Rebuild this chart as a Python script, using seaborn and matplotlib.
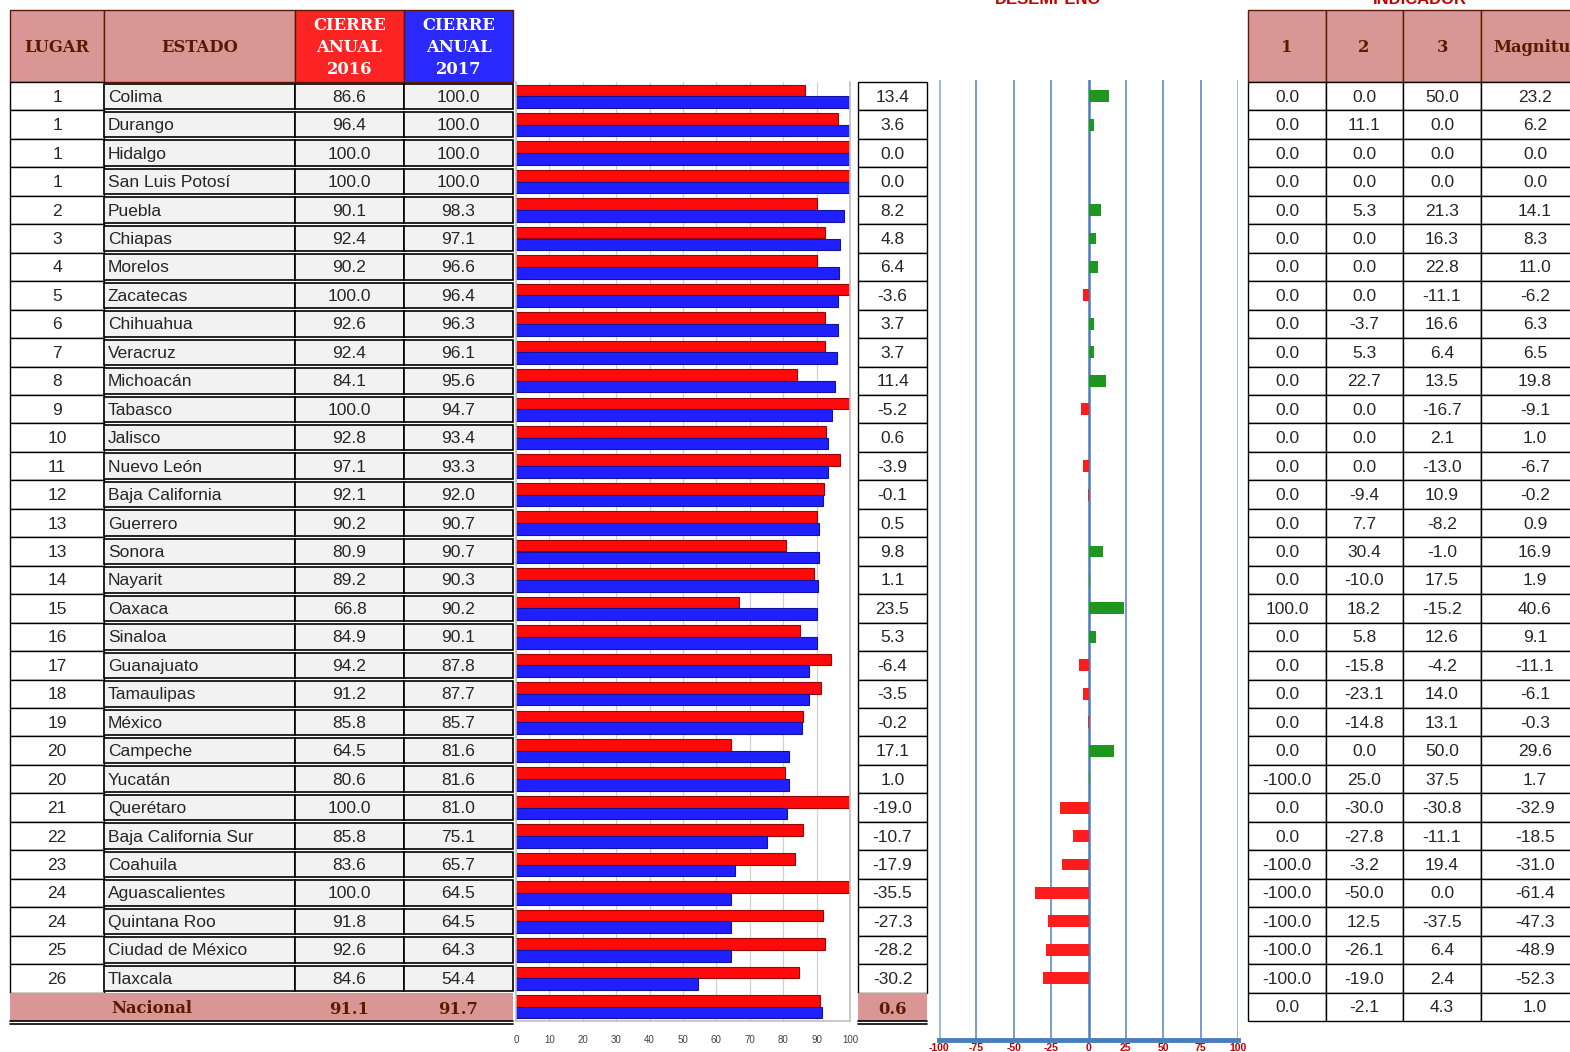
import numpy as np
import pandas as pd
import matplotlib
matplotlib.use("Agg")
import matplotlib.pyplot as plt
from matplotlib.patches import Rectangle
import seaborn as sns

# ---------------- data ----------------
estados = ["Colima", "Durango", "Hidalgo", "San Luis Potosí", "Puebla", "Chiapas", "Morelos",
           "Zacatecas", "Chihuahua", "Veracruz", "Michoacán", "Tabasco", "Jalisco", "Nuevo León",
           "Baja California", "Guerrero", "Sonora", "Nayarit", "Oaxaca", "Sinaloa", "Guanajuato",
           "Tamaulipas", "México", "Campeche", "Yucatán", "Querétaro", "Baja California Sur",
           "Coahuila", "Aguascalientes", "Quintana Roo", "Ciudad de México", "Tlaxcala"]
lugar = [1, 1, 1, 1, 2, 3, 4, 5, 6, 7, 8, 9, 10, 11, 12, 13, 13, 14, 15, 16, 17, 18, 19, 20, 20,
         21, 22, 23, 24, 24, 25, 26]
cierre_2016 = [86.6, 96.4, 100.0, 100.0, 90.1, 92.4, 90.2, 100.0, 92.6, 92.4, 84.1, 100.0, 92.8,
               97.1, 92.1, 90.2, 80.9, 89.2, 66.8, 84.9, 94.2, 91.2, 85.8, 64.5, 80.6, 100.0, 85.8,
               83.6, 100.0, 91.8, 92.6, 84.6]
cierre_2017 = [100.0, 100.0, 100.0, 100.0, 98.3, 97.1, 96.6, 96.4, 96.3, 96.1, 95.6, 94.7, 93.4,
               93.3, 92.0, 90.7, 90.7, 90.3, 90.2, 90.1, 87.8, 87.7, 85.7, 81.6, 81.6, 81.0, 75.1,
               65.7, 64.5, 64.5, 64.3, 54.4]
desempeno = [13.4, 3.6, 0.0, 0.0, 8.2, 4.8, 6.4, -3.6, 3.7, 3.7, 11.4, -5.2, 0.6, -3.9, -0.1, 0.5,
             9.8, 1.1, 23.5, 5.3, -6.4, -3.5, -0.2, 17.1, 1.0, -19.0, -10.7, -17.9, -35.5, -27.3,
             -28.2, -30.2]
ind_1 = [0.0, 0.0, 0.0, 0.0, 0.0, 0.0, 0.0, 0.0, 0.0, 0.0, 0.0, 0.0, 0.0, 0.0, 0.0, 0.0, 0.0, 0.0,
         100.0, 0.0, 0.0, 0.0, 0.0, 0.0, -100.0, 0.0, 0.0, -100.0, -100.0, -100.0, -100.0, -100.0]
ind_2 = [0.0, 11.1, 0.0, 0.0, 5.3, 0.0, 0.0, 0.0, -3.7, 5.3, 22.7, 0.0, 0.0, 0.0, -9.4, 7.7, 30.4,
         -10.0, 18.2, 5.8, -15.8, -23.1, -14.8, 0.0, 25.0, -30.0, -27.8, -3.2, -50.0, 12.5, -26.1,
         -19.0]
ind_3 = [50.0, 0.0, 0.0, 0.0, 21.3, 16.3, 22.8, -11.1, 16.6, 6.4, 13.5, -16.7, 2.1, -13.0, 10.9,
         -8.2, -1.0, 17.5, -15.2, 12.6, -4.2, 14.0, 13.1, 50.0, 37.5, -30.8, -11.1, 19.4, 0.0,
         -37.5, 6.4, 2.4]
magnitud = [23.2, 6.2, 0.0, 0.0, 14.1, 8.3, 11.0, -6.2, 6.3, 6.5, 19.8, -9.1, 1.0, -6.7, -0.2,
            0.9, 16.9, 1.9, 40.6, 9.1, -11.1, -6.1, -0.3, 29.6, 1.7, -32.9, -18.5, -31.0, -61.4,
            -47.3, -48.9, -52.3]
nacional_label = "Nacional"
nacional_2016 = 91.1
nacional_2017 = 91.7
nacional_desempeno = 0.6
nacional_ind = [0.0, -2.1, 4.3, 1.0]
eje_barras = [0, 10, 20, 30, 40, 50, 60, 70, 80, 90, 100]
eje_desempeno = [-100, -75, -50, -25, 0, 25, 50, 75, 100]
header_ind = ["1", "2", "3", "Magnitud"]

# ---------------- style ----------------
sns.set_theme(style="white")
plt.rcParams['font.family'] = ['Liberation Sans', 'DejaVu Sans']

W, H = 1570, 1052
fig = plt.figure(figsize=(W / 100, H / 100), dpi=100)

PINK = "#d99694"
BROWN = "#5b1a00"
HEAD_RED = "#ff2424"
HEAD_BLUE = "#2a2aff"
CELL_GRAY = "#f2f2f2"
SERIF = ['DejaVu Serif']
FS = 12.5
FSS = 11.8

TOP = 82.0
NROWS = 33
RH = (1021.0 - TOP) / NROWS


def rect_fig(x0, y0, x1, y1):
    return [x0 / W, 1 - y1 / H, (x1 - x0) / W, (y1 - y0) / H]


bg = fig.add_axes([0, 0, 1, 1])
bg.set_xlim(0, W)
bg.set_ylim(H, 0)
bg.axis('off')


def cell(x0, y0, x1, y1, fc, ec="black", lw=1.0):
    bg.add_patch(Rectangle((x0, y0), x1 - x0, y1 - y0, facecolor=fc, edgecolor=ec, linewidth=lw))


def row_y(i):
    return TOP + i * RH


# ---------------- left table ----------------
cols = [10, 104, 295, 404, 513]
cell(cols[0], 10, cols[1], TOP, PINK, BROWN)
cell(cols[1], 10, cols[2], TOP, PINK, BROWN)
cell(cols[2], 10, cols[3], TOP, HEAD_RED, BROWN)
cell(cols[3], 10, cols[4], TOP, HEAD_BLUE, BROWN)
bg.text((cols[0] + cols[1]) / 2, 47, "LUGAR", ha='center', va='center', color=BROWN,
        fontweight='bold', family=SERIF, fontsize=FSS)
bg.text((cols[1] + cols[2]) / 2, 47, "ESTADO", ha='center', va='center', color=BROWN,
        fontweight='bold', family=SERIF, fontsize=FSS)
for (xa, xb), year in [((cols[2], cols[3]), "2016"), ((cols[3], cols[4]), "2017")]:
    for k, line in enumerate(["CIERRE", "ANUAL", year]):
        bg.text((xa + xb) / 2, 25 + 22 * k, line, ha='center', va='center', color='white',
                fontweight='bold', family=SERIF, fontsize=FSS)

for i, est in enumerate(estados):
    y0, y1 = row_y(i), row_y(i + 1)
    cell(cols[0], y0, cols[1], y1, 'white', 'black', 1.0)
    for c in range(1, 4):
        cell(cols[c], y0 + 1.5, cols[c + 1], y1 - 1.5, CELL_GRAY, 'black', 1.2)
    yc = (y0 + y1) / 2 + 1
    bg.text((cols[0] + cols[1]) / 2, yc, str(lugar[i]), ha='center', va='center', fontsize=FS)
    bg.text(cols[1] + 4, yc, est, ha='left', va='center', fontsize=FS)
    bg.text((cols[2] + cols[3]) / 2, yc, f"{cierre_2016[i]:.1f}", ha='center', va='center', fontsize=FS)
    bg.text((cols[3] + cols[4]) / 2, yc, f"{cierre_2017[i]:.1f}", ha='center', va='center', fontsize=FS)

yn0, yn1 = row_y(32), row_y(33)
bg.add_patch(Rectangle((cols[0], yn0), cols[4] - cols[0], yn1 - yn0, facecolor=PINK, edgecolor='none'))
bg.plot([cols[0], cols[4]], [yn1, yn1], color='black', lw=1.2)
bg.plot([cols[0], cols[4]], [yn1 + 3, yn1 + 3], color='black', lw=1.2)
ycn = (yn0 + yn1) / 2 + 2
bg.text(152, ycn, nacional_label, ha='center', va='center', color=BROWN, fontweight='bold',
        family=SERIF, fontsize=FSS)
bg.text((cols[2] + cols[3]) / 2, ycn + 1, f"{nacional_2016:.1f}", ha='center', va='center',
        color=BROWN, fontweight='bold', family=SERIF, fontsize=FSS)
bg.text((cols[3] + cols[4]) / 2, ycn + 1, f"{nacional_2017:.1f}", ha='center', va='center',
        color=BROWN, fontweight='bold', family=SERIF, fontsize=FSS)

# ---------------- desempeño value column ----------------
dx0, dx1 = 858, 927
for i, v in enumerate(desempeno):
    y0, y1 = row_y(i), row_y(i + 1)
    cell(dx0, y0, dx1, y1, 'white', 'black', 1.0)
    bg.text((dx0 + dx1) / 2, (y0 + y1) / 2 + 1, f"{v:.1f}", ha='center', va='center', fontsize=FS)
bg.add_patch(Rectangle((dx0, yn0), dx1 - dx0, yn1 - yn0, facecolor=PINK, edgecolor='none'))
bg.plot([dx0, dx1], [yn1, yn1], color='black', lw=1.2)
bg.plot([dx0, dx1], [yn1 + 3, yn1 + 3], color='black', lw=1.2)
bg.text((dx0 + dx1) / 2, ycn + 1, f"{nacional_desempeno:.1f}", ha='center', va='center',
        color=BROWN, fontweight='bold', family=SERIF, fontsize=FSS)

# ---------------- right table ----------------
rcols = [1248, 1326, 1403, 1481, 1640]
for c in range(4):
    cell(rcols[c], 10, rcols[c + 1], TOP, PINK, BROWN)
rcent = [1287, 1364, 1442, 1535]
for c in range(4):
    bg.text(rcent[c] if c < 3 else 1493, 47, header_ind[c], ha='center' if c < 3 else 'left',
            va='center', color=BROWN, fontweight='bold', family=SERIF, fontsize=FSS)
ind_cols = [ind_1 + [nacional_ind[0]], ind_2 + [nacional_ind[1]], ind_3 + [nacional_ind[2]],
            magnitud + [nacional_ind[3]]]
for i in range(NROWS):
    y0, y1 = row_y(i), row_y(i + 1)
    for c in range(4):
        cell(rcols[c], y0, rcols[c + 1], y1, 'white', 'black', 1.0)
        bg.text(rcent[c], (y0 + y1) / 2 + 1, f"{ind_cols[c][i]:.1f}", ha='center', va='center',
                fontsize=FS)

# section titles (cut at top edge as in the original)
bg.text(1048, 3.5, "DESEMPEÑO", ha='center', va='baseline', color='#c00000', fontweight='bold',
        fontsize=12)
bg.text(1420, 3.5, "INDICADOR", ha='center', va='baseline', color='#c00000', fontweight='bold',
        fontsize=12)

# ---------------- bar chart 2016 vs 2017 ----------------
cats = estados + [nacional_label]
df1 = pd.DataFrame({
    "estado": cats * 2,
    "anio": ["2016"] * len(cats) + ["2017"] * len(cats),
    "valor": cierre_2016 + [nacional_2016] + cierre_2017 + [nacional_2017],
})
ax1 = fig.add_axes(rect_fig(516, TOP, 850, 1021))
ax1.set_facecolor('none')
ax1.set_axisbelow(True)
ax1.grid(axis='x', color='#d0d0d0', lw=0.9)
sns.barplot(data=df1, y="estado", x="valor", hue="anio", order=cats, hue_order=["2016", "2017"],
            palette={"2016": "#ff0a0a", "2017": "#2020ff"}, orient='h', width=0.82,
            legend=False, ax=ax1, edgecolor='none', saturation=1)
for p in ax1.patches:
    fc = p.get_facecolor()
    p.set_edgecolor((fc[0] * 0.6, fc[1] * 0.6, fc[2] * 0.6, 1))
    p.set_linewidth(0.8)
ax1.set_xlim(0, 100)
ax1.set_ylim(NROWS - 0.5, -0.5)
ax1.set_xticks(eje_barras)
ax1.set_xticklabels([str(t) for t in eje_barras])
ax1.tick_params(axis='x', labelsize=7, colors='#404040', length=3, pad=7, width=0.6)
ax1.tick_params(axis='y', left=False, labelleft=False)
ax1.set_xlabel("")
ax1.set_ylabel("")
for s in ['left', 'right', 'bottom']:
    ax1.spines[s].set_color('#bfbfbf')
    ax1.spines[s].set_linewidth(1.2)
ax1.spines['top'].set_visible(False)

# ---------------- desempeño diverging chart ----------------
df2 = pd.DataFrame({"estado": estados, "desempeno": desempeno})
df2["signo"] = np.where(df2["desempeno"] >= 0, "pos", "neg")
top2, bot2 = 80, 1040
ax2 = fig.add_axes(rect_fig(939, top2, 1238, bot2))
ax2.set_facecolor('none')
for t in eje_desempeno:
    if abs(t) == 100:
        ax2.axvline(t, color='#9dbbe0', lw=2.2, zorder=0)
    elif t == 0:
        ax2.axvline(t, color='#4a7ebb', lw=1.8, zorder=0)
    else:
        ax2.axvline(t, color='#5b8cc8', lw=1.2, zorder=0)
sns.barplot(data=df2, y="estado", x="desempeno", hue="signo", order=estados,
            hue_order=["pos", "neg"], palette={"pos": "#1f961f", "neg": "#ff1c1c"},
            orient='h', dodge=False, width=0.42, legend=False, ax=ax2, saturation=1,
            edgecolor='none')
ax2.set_xlim(-100, 100)
ax2.set_ylim(32.5 + (bot2 - 1021) / RH, -0.5 - (TOP - top2) / RH)
ax2.set_xticks(eje_desempeno)
ax2.set_xticklabels([str(t) for t in eje_desempeno])
ax2.tick_params(axis='x', labelsize=7.5, colors='#c00000', length=0, pad=2)
for lab in ax2.get_xticklabels():
    lab.set_fontweight('bold')
ax2.tick_params(axis='y', left=False, labelleft=False)
ax2.set_xlabel("")
ax2.set_ylabel("")
for s in ['left', 'right', 'top']:
    ax2.spines[s].set_visible(False)
ax2.spines['bottom'].set_color('#4a7ebb')
ax2.spines['bottom'].set_linewidth(3.5)

fig.savefig("out.png", dpi=100)
